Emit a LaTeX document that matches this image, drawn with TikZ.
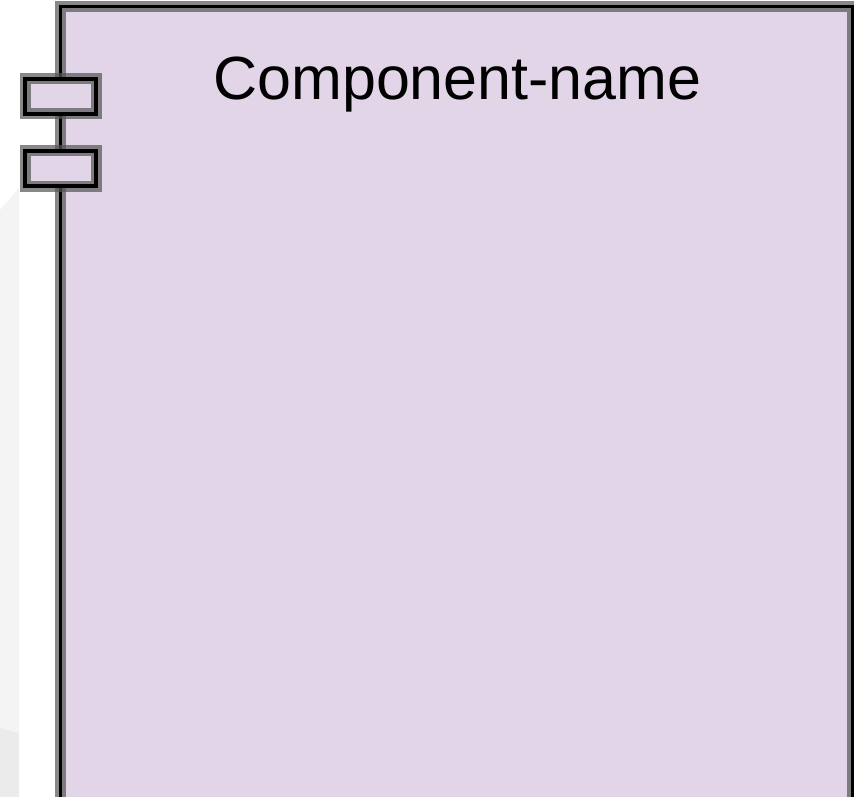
\documentclass[tikz,border=0pt]{standalone}
\usepackage{fontspec}
\setmainfont{Liberation Sans}
\definecolor{compfill}{HTML}{E1D5E7}
\definecolor{halogray}{HTML}{555555}
\definecolor{shadeA}{HTML}{F4F4F4}
\definecolor{shadeB}{HTML}{EBEBEB}

\begin{document}
\begin{tikzpicture}[x=1pt,y=-1pt]
      \newcommand{\portw}[0]{ 71pt }
      \newcommand{\porth}[0]{ 35pt }
      \tikzstyle{box} = [fill=compfill,inner sep=0pt,
        postaction={draw=halogray,line width=11pt,draw opacity=0.7},
        postaction={draw=black,line width=3.5pt}]
      \useasboundingbox (0,0) rectangle (854,797);
      \fill[shadeA] (0,210) -- (19,188) -- (19,733) -- (0,728) -- cycle;
      \fill[shadeB] (0,728) -- (19,733) -- (19,797) -- (0,797) -- cycle;
      \node[box,anchor=north west,minimum width=792pt,minimum height=800pt] (comp) at (60.5,6.5) {};
      \node[box,minimum width=\portw,minimum height=\porth] (port1) at (60.5,96.5) {};
      \node[box,minimum width=\portw,minimum height=\porth] (port2) at (60.5,168.5) {};
      \node[anchor=base,inner sep=0pt,font=\fontsize{61}{62}\selectfont] (name) at (457.5,100) {Component-name};
    \end{tikzpicture}
\end{document}
